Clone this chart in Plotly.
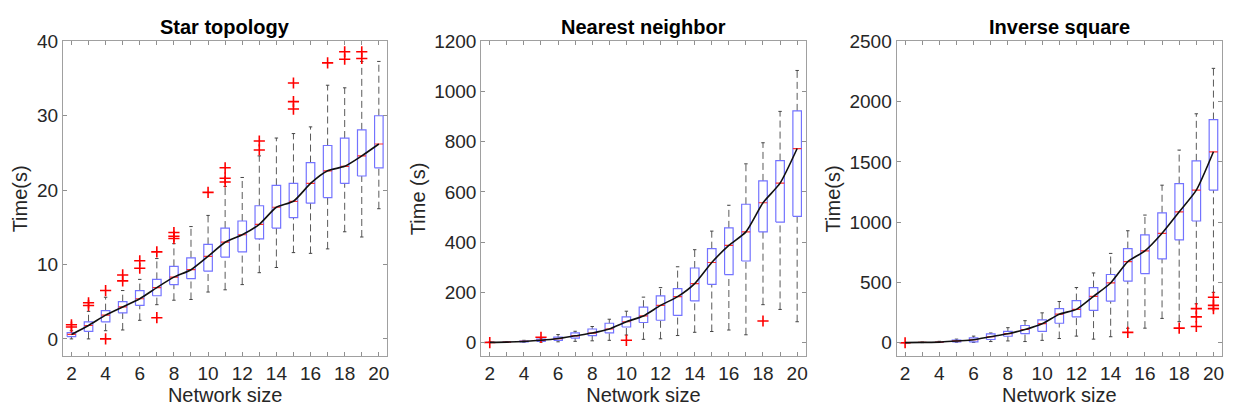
import plotly.graph_objects as go

# ---------------- data ----------------
sizes = list(range(2, 21))

# Star topology
star_q1 = [0.3, 1.0, 2.3, 3.5, 4.5, 5.8, 7.3, 8.1, 9.1, 11.0, 11.7, 13.45, 14.9, 16.3, 18.25, 19.0, 20.9, 21.9, 23.0]
star_med = [0.6, 1.8, 3.2, 4.3, 5.4, 6.9, 8.3, 9.3, 11.1, 13.0, 14.0, 15.4, 17.7, 18.5, 20.9, 22.6, 23.2, 24.6, 26.2]
star_q3 = [0.85, 2.3, 3.8, 5.0, 6.5, 8.0, 9.75, 10.9, 12.7, 14.9, 15.85, 17.9, 20.65, 20.9, 23.7, 26.0, 27.0, 28.1, 30.0]
star_lo = [0.0, 0.0, 1.1, 1.2, 2.5, 4.6, 5.2, 5.3, 6.3, 6.6, 7.3, 8.9, 9.6, 11.6, 11.5, 12.1, 14.4, 13.7, 17.5]
star_hi = [1.1, 3.7, 5.6, 6.5, 8.0, 10.8, 12.8, 15.1, 16.6, 20.5, 21.7, 24.6, 27.0, 27.6, 28.5, 34.1, 33.75, 37.3, 37.3]
star_out = [[1.9, 1.6], [4.85, 4.5], [6.5, 0.0], [8.6, 7.8], [10.5, 9.5], [11.7, 2.85],
            [14.3, 13.8, 13.5], [], [19.7], [23.0, 21.6, 21.1], [], [26.6, 25.4], [],
            [34.4, 31.9, 30.9], [], [37.1], [38.6, 37.6], [38.6, 37.7], []]

# Nearest neighbor
nn_q1 = [0.8, 1.5, 3, 5, 9, 18, 28, 39, 62, 80, 89, 108, 166, 232, 271, 325, 441, 480, 503]
nn_med = [1.0, 2, 4.5, 9, 16, 27, 38, 54, 83, 106, 148, 183, 235, 319, 387, 441, 557, 635, 773]
nn_q3 = [1.3, 2.7, 6, 14, 22, 39, 54, 77, 102, 141, 186, 215, 297, 374, 457, 551, 644, 725, 923]
nn_lo = [0.5, 1, 1.5, 2, 3, 5, 7, 9, 30, 13, 15, 28, 41, 44, 50, 31, 151, 132, 83]
nn_hi = [1.8, 4, 9, 18, 32, 45, 64, 93, 125, 181, 219, 302, 370, 444, 547, 712, 796, 921, 1084]
nn_out = [[0.1], [], [], [21], [], [], [], [], [9], [], [], [], [], [], [], [], [86], [], []]

# Inverse square
inv_q1 = [0.5, 2, 3, 8, 8, 27, 54, 75, 94, 162, 215, 269, 345, 512, 574, 695, 854, 1010, 1266]
inv_med = [1, 3, 5, 15, 25, 50, 75, 110, 158, 237, 277, 385, 496, 673, 762, 908, 1086, 1266, 1584]
inv_q3 = [2, 4, 8, 22, 40, 73, 94, 143, 189, 283, 350, 458, 566, 781, 894, 1078, 1320, 1509, 1851]
inv_lo = [0.3, 1, 2, 4, 3, 10, 15, 10, 20, 35, 55, 30, 50, 120, 121, 202, 175, 323, 418]
inv_hi = [3, 6, 12, 30, 55, 81, 125, 183, 248, 342, 458, 579, 741, 929, 1059, 1307, 1598, 1899, 2276]
inv_out = [[0.1], [], [], [], [], [], [], [], [], [], [], [], [], [86], [], [], [121], [283, 215, 135], [377, 310, 283]]

titles = ["Star topology", "Nearest neighbor", "Inverse square"]
ytitles = ["Time(s)", "Time (s)", "Time(s)"]
yranges = [[-2.35, 40], [-55, 1200], [-113, 2500]]
ydticks = [10, 200, 500]
x_ticks = list(range(2, 21))
x_ticktext = [str(v) if v % 2 == 0 else "" for v in x_ticks]

panels = [
    (star_q1, star_med, star_q3, star_lo, star_hi, star_out),
    (nn_q1, nn_med, nn_q3, nn_lo, nn_hi, nn_out),
    (inv_q1, inv_med, inv_q3, inv_lo, inv_hi, inv_out),
]

# ---------------- layout ----------------
# page body has an 8px margin; figure is sized so the whole page is 1238x414
OFF = 8
W, H = 1238 - 2 * OFF, 414 - 2 * OFF
xdom_px = [(63, 388), (482, 807), (898, 1224)]
ytop, ybot = 32, 356
ydom = [(H - (ybot - OFF)) / H, (H - (ytop - OFF)) / H]

BOX_HW = 0.25
CAP_HW = 0.1
FONT = "Arial, Liberation Sans, sans-serif"
TXT = "#262626"

fig = go.Figure()

for i, (q1, med, q3, lo, hi, outs) in enumerate(panels):
    xa = "x" if i == 0 else f"x{i+1}"
    ya = "y" if i == 0 else f"y{i+1}"

    bx, by, mx, my, wx, wy, cx, cy, ox, oy = [], [], [], [], [], [], [], [], [], []
    for g, a, m, b, l, h, o in zip(sizes, q1, med, q3, lo, hi, outs):
        bx += [g - BOX_HW, g + BOX_HW, g + BOX_HW, g - BOX_HW, g - BOX_HW, None]
        by += [a, a, b, b, a, None]
        mx += [g - BOX_HW, g + BOX_HW, None]
        my += [m, m, None]
        wx += [g, g, None, g, g, None]
        wy += [b, h, None, l, a, None]
        cx += [g - CAP_HW, g + CAP_HW, None, g - CAP_HW, g + CAP_HW, None]
        cy += [h, h, None, l, l, None]
        for v in o:
            ox.append(g)
            oy.append(v)

    fig.add_trace(go.Scatter(x=wx, y=wy, mode="lines", xaxis=xa, yaxis=ya,
                             line=dict(color="#5a5a5a", width=1, dash="7px,4px"),
                             showlegend=False, hoverinfo="skip"))
    fig.add_trace(go.Scatter(x=cx, y=cy, mode="lines", xaxis=xa, yaxis=ya,
                             line=dict(color="#444444", width=1),
                             showlegend=False, hoverinfo="skip"))
    fig.add_trace(go.Scatter(x=bx, y=by, mode="lines", xaxis=xa, yaxis=ya,
                             line=dict(color="#7373ff", width=1.2),
                             showlegend=False, hoverinfo="skip"))
    fig.add_trace(go.Scatter(x=mx, y=my, mode="lines", xaxis=xa, yaxis=ya,
                             line=dict(color="#ff3030", width=1.2),
                             showlegend=False, hoverinfo="skip"))
    fig.add_trace(go.Scatter(x=ox, y=oy, mode="markers", xaxis=xa, yaxis=ya,
                             marker=dict(symbol="cross-thin", size=8, color="red",
                                         line=dict(color="red", width=1.6)),
                             showlegend=False, hoverinfo="skip"))
    fig.add_trace(go.Scatter(x=sizes, y=med, mode="lines", xaxis=xa, yaxis=ya,
                             line=dict(color="#111111", width=1.6, shape="spline", smoothing=0.6),
                             showlegend=False, hoverinfo="skip"))

    x0, x1 = xdom_px[i]
    x0 -= OFF
    x1 -= OFF
    axis_common = dict(showline=True, linecolor="#a0a0a0", linewidth=1, mirror="ticks",
                       ticks="inside", ticklen=4, tickcolor="#909090", showgrid=False,
                       zeroline=False, tickfont=dict(family=FONT, size=19, color=TXT))
    fig.update_layout(**{
        ("xaxis" if i == 0 else f"xaxis{i+1}"): dict(
            domain=[x0 / W, x1 / W], anchor=ya, range=[1.5, 20.5],
            tickmode="array", tickvals=x_ticks, ticktext=x_ticktext,
            title=dict(text="Network size", font=dict(family=FONT, size=20, color=TXT), standoff=8),
            **axis_common),
        ("yaxis" if i == 0 else f"yaxis{i+1}"): dict(
            domain=ydom, anchor=xa, range=yranges[i], dtick=ydticks[i], tick0=0,
            title=dict(text=ytitles[i], font=dict(family=FONT, size=20, color=TXT), standoff=3),
            **axis_common),
    })
    fig.add_annotation(text=f"<b>{titles[i]}</b>", xref="paper", yref="paper",
                       x=(x0 + x1) / 2 / W, y=(H - (17 - OFF)) / H, showarrow=False,
                       xanchor="center", yanchor="middle",
                       font=dict(family=FONT, size=20, color="#000000"))

fig.update_layout(width=W, height=H, margin=dict(l=0, r=0, t=0, b=0),
                  plot_bgcolor="white", paper_bgcolor="white")

fig.write_html("out.html")
